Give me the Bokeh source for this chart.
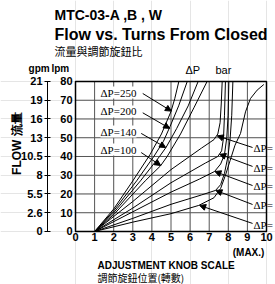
import math
from bokeh.plotting import figure
from bokeh.models import (Range1d, LinearAxis, FixedTicker, Label, LabelSet, Arrow,
                          NormalHead, ColumnDataSource)
from bokeh.embed import file_html
from bokeh.resources import INLINE

FONT = "Liberation Sans"
CJK = "Noto Sans CJK TC"

# ---- axes data ----
turn_ticks = [0, 1, 2, 3, 4, 5, 6, 7, 8, 9, 10]
lpm_ticks = [0, 10, 20, 30, 40, 50, 60, 70, 80]
gpm_labels = ["0", "2.6", "5.5", "8", "10.5", "13", "16", "19", "21"]

# ---- high pressure group (turns, lpm) ----
dp250_x = [1, 2, 3.0, 3.9, 4.5, 5.0, 5.2, 5.41]
dp250_y = [0, 12, 27, 41, 52, 64, 71, 80]
dp200_x = [1, 2, 3.2, 4.1, 4.6, 4.95, 5.4, 5.85]
dp200_y = [0, 11, 27, 40, 48, 56, 67, 80]
dp140_x = [1, 2, 3.4, 4.4, 4.75, 5.3, 5.9, 6.42]
dp140_y = [0, 10, 27, 40, 45, 55, 67, 80]
dp100_x = [1, 2, 3.65, 4.45, 4.8, 5.5, 6.2, 6.89]
dp100_y = [0, 9, 27, 35, 40, 52, 66, 80]

# ---- low pressure group (turns, lpm) ----
r1_x = [1, 3, 5, 6.6, 7.25, 7.45, 7.57, 7.63, 7.68]
r1_y = [0, 16, 33, 44.5, 49, 52, 58, 68, 80]
r2_x = [1, 3, 5, 6.8, 7.45, 7.65, 7.75, 7.8, 7.85]
r2_y = [0, 12.5, 26, 36.5, 40, 43, 50, 62, 80]
r3_x = [1, 3, 5, 6.5, 7.28, 7.6, 7.8, 7.92, 7.99, 8.03]
r3_y = [0, 10.5, 21, 28, 32, 36, 41, 50, 62, 80]
r4_x = [1, 3, 5, 6.6, 7.33, 7.6, 7.8, 7.98, 8.1, 8.18, 8.24]
r4_y = [0, 7, 14.5, 19.5, 21.9, 25, 31, 40, 50, 62, 80]
r5_x = [1, 3, 5, 6.45, 7.25, 7.6, 7.85, 8.1, 8.35, 8.64, 8.9, 9.16, 9.51, 9.86]
r5_y = [0, 5, 9.5, 13.9, 18, 23, 30, 38, 46, 52.3, 63.8, 70.9, 75.4, 78.4]

curves = [(dp250_x, dp250_y), (dp200_x, dp200_y), (dp140_x, dp140_y), (dp100_x, dp100_y),
          (r1_x, r1_y), (r2_x, r2_y), (r3_x, r3_y), (r4_x, r4_y), (r5_x, r5_y)]

# ---- labels & pointer arrows ----
left_text = ["ΔP=250", "ΔP=200", "ΔP=140", "ΔP=100"]
left_x = [1.31, 1.31, 1.31, 1.31]
left_y = [74.1, 64.0, 53.3, 43.7]
left_ax0 = [3.52, 3.52, 3.44, 3.44]
left_ay0 = [73.6, 63.3, 52.3, 42.1]
left_ax1 = [5.02, 4.93, 4.72, 4.46]
left_ay1 = [64.2, 55.0, 44.8, 35.2]

right_text = ["ΔP=", "ΔP=", "ΔP=", "ΔP=", "ΔP="]
right_x = [9.32, 9.32, 9.32, 9.32, 9.32]
right_y = [44.3, 34.1, 24.0, 13.9, 3.7]
right_ax0 = [9.27, 9.27, 9.27, 9.27, 9.27]
right_ay0 = [44.8, 34.7, 24.5, 14.4, 4.3]
right_ax1 = [7.42, 7.55, 7.3, 7.35, 6.5]
right_ay1 = [51.0, 41.2, 32.0, 21.9, 13.9]

# the frame covers the whole canvas; the chart box is [0,10] x [0,80]
p = figure(width=275, height=284, x_range=Range1d(-3.927, 10.471),
           y_range=Range1d(-28.27, 123.2),
           output_backend="svg", toolbar_location=None,
           x_axis_location=None, y_axis_location=None, min_border=0)
p.outline_line_color = None
p.background_fill_color = "white"
p.border_fill_color = "white"

n_x = len(turn_ticks)
n_y = len(lpm_ticks)
# grid lines from the tick lists
p.segment(x0=turn_ticks, y0=[lpm_ticks[0]] * n_x, x1=turn_ticks, y1=[lpm_ticks[-1]] * n_x,
          line_color="#555555", line_width=1)
p.segment(x0=[turn_ticks[0]] * n_y, y0=lpm_ticks, x1=[turn_ticks[-1]] * n_y, y1=lpm_ticks,
          line_color="#555555", line_width=1)
# chart box
p.quad(left=turn_ticks[0], right=turn_ticks[-1], bottom=lpm_ticks[0], top=lpm_ticks[-1],
       fill_color=None, line_color="black", line_width=1.5)

# x axis (turns)
xa = LinearAxis(ticker=FixedTicker(ticks=turn_ticks), fixed_location=lpm_ticks[0],
                bounds=(turn_ticks[0], turn_ticks[-1]))
xa.axis_line_color = None
xa.major_tick_line_color = None
xa.minor_tick_line_color = None
xa.major_tick_out = 0
xa.major_tick_in = 0
xa.major_label_standoff = 2
xa.major_label_text_font = FONT
xa.major_label_text_font_style = "bold"
xa.major_label_text_font_size = "11px"
xa.major_label_text_color = "black"
p.add_layout(xa, "below")

# lpm axis
la = LinearAxis(ticker=FixedTicker(ticks=lpm_ticks), fixed_location=turn_ticks[0],
                bounds=(lpm_ticks[0], lpm_ticks[-1]))
la.axis_line_color = None
la.major_tick_line_color = None
la.minor_tick_line_color = None
la.major_tick_out = 0
la.major_tick_in = 0
la.major_label_standoff = 3
la.major_label_text_font = FONT
la.major_label_text_font_style = "bold"
la.major_label_text_font_size = "11px"
la.major_label_text_color = "black"
p.add_layout(la, "left")

# gpm axis
ga = LinearAxis(ticker=FixedTicker(ticks=lpm_ticks), fixed_location=-1.466,
                bounds=(lpm_ticks[0], lpm_ticks[-1]),
                major_label_overrides=dict(zip(lpm_ticks, gpm_labels)))
ga.axis_line_color = "black"
ga.axis_line_width = 1
ga.major_tick_line_color = "black"
ga.major_tick_in = 3
ga.major_tick_out = 3
ga.minor_tick_line_color = None
ga.major_label_standoff = 2
ga.major_label_text_font = FONT
ga.major_label_text_font_style = "bold"
ga.major_label_text_font_size = "11px"
ga.major_label_text_color = "black"
p.add_layout(ga, "left")

# curves
for cx, cy in curves:
    p.line(cx, cy, line_color="black", line_width=1)

# arrows
arr_src = ColumnDataSource(dict(x0=left_ax0 + right_ax0, y0=left_ay0 + right_ay0,
                                x1=left_ax1 + right_ax1, y1=left_ay1 + right_ay1))
p.add_layout(Arrow(source=arr_src, x_start="x0", y_start="y0", x_end="x1", y_end="y1",
                   line_color="black", line_width=1,
                   end=NormalHead(size=6, fill_color="black", line_color="black", line_width=1)))

# pressure labels
p.add_layout(LabelSet(source=ColumnDataSource(dict(x=left_x, y=left_y, t=left_text)),
                      x="x", y="y", text="t", text_font=FONT, text_font_size="11px",
                      text_baseline="middle", text_color="black",
                      background_fill_color="white"))
p.add_layout(LabelSet(source=ColumnDataSource(dict(x=right_x, y=right_y, t=right_text)),
                      x="x", y="y", text="t", text_font=FONT, text_font_size="11px",
                      text_baseline="middle", text_color="black"))


def lab(x, y, t, size, bold=False, font=FONT, align="left", angle=0.0):
    p.add_layout(Label(x=x, y=y, text=t, text_font=font, text_font_size=size,
                       text_font_style="bold" if bold else "normal", angle=angle,
                       text_baseline="middle", text_align=align, text_color="black"))


lab(-1.10, 115.2, "MTC-03-A ,B , W", "14px", True)
lab(-1.10, 105.1, "Flow vs. Turns From Closed", "16px", True)
lab(-1.10, 96.0, "流量與調節旋鈕比", "11px", False, CJK)
lab(-2.46, 86.9, "gpm", "10px", True)
lab(-1.26, 86.9, "lpm", "10px", True)
lab(5.76, 85.9, "ΔP", "11px")
lab(7.33, 85.9, "bar", "11px")
lab(-3.04, 46.9, "FLOW 流量", "12px", True, FONT, "center", math.pi / 2)
lab(9.06, -11.2, "(MAX.)", "10px", True, FONT, "center")
lab(1.15, -18.4, "ADJUSTMENT KNOB SCALE", "10px", True)
lab(1.15, -24.4, "調節旋鈕位置(轉數)", "10px", False, CJK)

open("out.html", "w").write(file_html(p, INLINE))
